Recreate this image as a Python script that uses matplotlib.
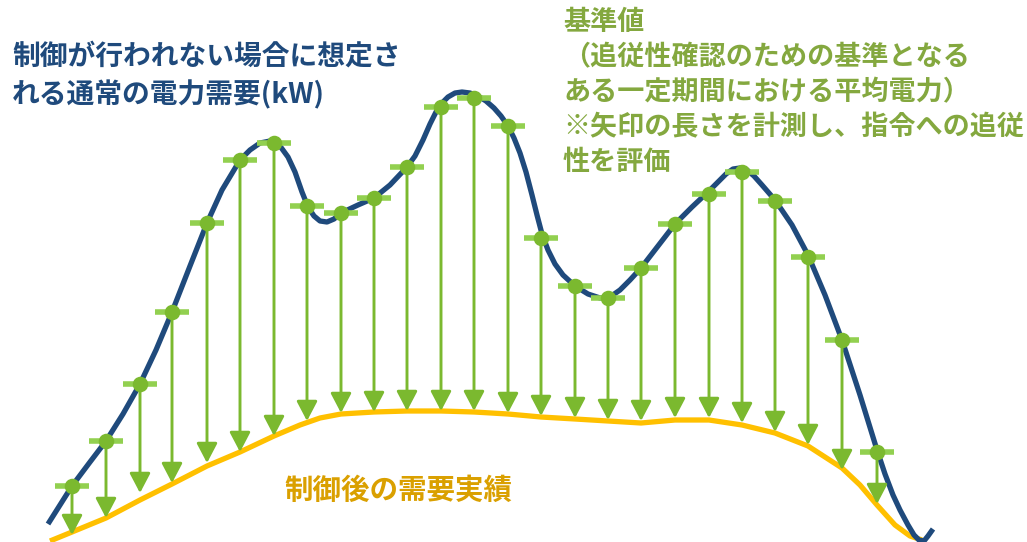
import matplotlib.pyplot as plt

plt.rcParams['font.family'] = ['Noto Sans CJK JP', 'DejaVu Sans']

# Demand without control (navy curve) in pixel units
demand_x = [48, 60, 72, 90, 106, 123, 140, 156, 172, 190, 207, 222, 240, 250, 260,
            270, 280, 288, 295, 302, 308, 314, 320, 327, 334, 341, 358, 374, 390,
            407, 415, 423, 430, 436, 442, 448, 455, 462, 470, 478, 486, 494, 501,
            508, 514, 520, 526, 532, 537, 542, 548, 555, 563, 575, 588, 600, 610,
            620, 630, 641, 658, 675, 692, 709, 718, 726, 733, 740, 747, 754, 762,
            775, 792, 808, 825, 842, 860, 877, 885, 893, 900, 908, 914, 919, 924,
            928, 933]
demand_y = [524, 505, 486, 462, 441, 414, 384, 350, 312, 266, 223, 190, 160, 150, 143,
            141, 146, 157, 172, 192, 207, 216, 221, 222, 219, 213, 205, 198, 185,
            167, 156, 140, 124, 112, 103, 97, 93, 92, 93, 96, 101, 108, 116,
            126, 138, 153, 172, 195, 215, 234, 250, 264, 275, 286, 294, 298, 297,
            290, 280, 268, 246, 224, 207, 191, 182, 174, 169, 168, 170, 176, 185,
            200, 225, 255, 295, 340, 395, 450, 474, 495, 510, 525, 535, 540, 541,
            536, 529]

# Demand after control (yellow curve)
actual_x = [50, 72, 106, 140, 172, 207, 240, 274, 300, 320, 341, 374, 407, 441, 474,
            508, 541, 575, 608, 641, 675, 709, 742, 775, 808, 842, 860, 877, 895,
            910, 922]
actual_y = [541, 532, 518, 500, 484, 466, 452, 436, 425, 418, 414, 412, 411, 411, 412,
            414, 417, 419, 421, 423, 420, 420, 425, 433, 446, 468, 485, 505, 525,
            536, 540]

# Baseline values (green points) and arrow tips
base_x = [72, 106, 140, 172, 207, 240, 274, 307, 341, 374, 407, 441, 474, 508, 541,
          575, 608, 641, 675, 709, 742, 775, 808, 842, 877]
base_y = [486, 441, 384, 312, 223, 160, 143, 206, 213, 198, 167, 107, 98, 126, 238,
          286, 298, 268, 224, 194, 172, 201, 257, 340, 452]
tip_y = [535, 518, 493, 483, 463, 452, 436, 421, 413, 412, 411, 411, 411, 413, 416,
         418, 420, 421, 418, 418, 423, 432, 445, 470, 504]

title_lines = ['制御が行われない場合に想定さ', 'れる通常の電力需要(kW)']
note_lines = ['基準値', '（追従性確認のための基準となる', 'ある一定期間における平均電力）',
              '※矢印の長さを計測し、指令への追従', '性を評価']
actual_label = '制御後の需要実績'

navy = '#1F4A7C'
yellow = '#FFC000'
green_dot = '#7BB92F'
green_bar = '#92D050'
green_text = '#84A83F'
gold_text = '#DAA000'

fig = plt.figure(figsize=(10.27, 5.42), dpi=100)
ax = fig.add_axes([0, 0, 1, 1])
ax.set_xlim(0, 1027)
ax.set_ylim(542, 0)
ax.axis('off')

ax.plot(actual_x, actual_y, color=yellow, lw=3.8, solid_capstyle='butt',
        solid_joinstyle='round', zorder=1)
ax.plot(demand_x, demand_y, color=navy, lw=3.8, solid_capstyle='butt',
        solid_joinstyle='round', zorder=2)

for x, y, t in zip(base_x, base_y, tip_y):
    ax.annotate('', xy=(x, t), xytext=(x, y),
                arrowprops=dict(arrowstyle='-|>,head_length=0.8,head_width=0.42',
                                color=green_dot, lw=2.1, shrinkA=0, shrinkB=0,
                                mutation_scale=15),
                zorder=3)

ax.hlines(base_y, [x - 17 for x in base_x], [x + 17 for x in base_x],
          color=green_bar, lw=4, zorder=4)
ax.scatter(base_x, base_y, s=125, color=green_dot, zorder=5, linewidths=0)

for i, line in enumerate(title_lines):
    ax.text(12, 57 + i * 38, line, color=navy, fontsize=20, fontweight='bold',
            va='center', ha='left')

for i, line in enumerate(note_lines):
    ax.text(563, 22 + i * 35, line, color=green_text, fontsize=19.5, fontweight='bold',
            va='center', ha='left')

ax.text(284, 491, actual_label, color=gold_text, fontsize=20.5, fontweight='bold',
        va='center', ha='left')

fig.savefig('out.png', dpi=100)
